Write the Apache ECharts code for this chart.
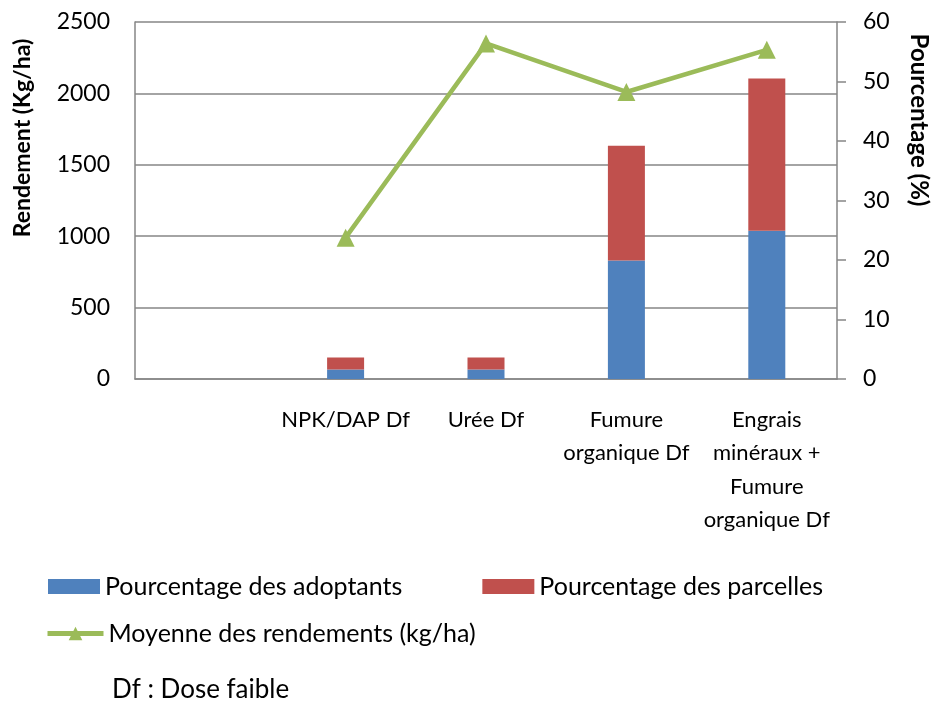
<!DOCTYPE html>
<html>
<head>
<meta charset="utf-8">
<script src="https://cdn.jsdelivr.net/npm/echarts@6/dist/echarts.min.js"></script>
<style>
  html, body { margin: 0; padding: 0; background: #fff; }
  #chart { width: 933px; height: 701px; }
</style>
</head>
<body>
<div id="chart"></div>
<script>
// categories (first slot is empty in the original)
var categories = ['', 'NPK/DAP Df', 'Urée Df', 'Fumure\norganique Df', 'Engrais\nminéraux +\nFumure\norganique Df'];
// percentages (right axis)
var adoptants = [null, 1.6, 1.6, 19.9, 24.9];
var parcelles = [null, 2.0, 2.0, 19.3, 25.6];
// mean yield kg/ha (left axis)
var rendements = [null, 990, 2350, 2010, 2305];

var seriesNames = ['Pourcentage des adoptants', 'Pourcentage des parcelles', 'Moyenne des rendements (kg/ha)'];

var FONT = 'Lato, "Open Sans", sans-serif';
var gridColor = '#868686';

var myChart = echarts.init(document.getElementById('chart'));

var option = {
    animation: false,
    textStyle: { fontFamily: FONT },
    grid: { left: 135, right: 96, top: 22, bottom: 322 },
    legend: [{
        data: [seriesNames[0], seriesNames[1]],
        left: 48, top: 574, padding: 0,
        itemWidth: 52, itemHeight: 15, itemGap: 80,
        icon: 'rect',
        textStyle: { fontFamily: FONT, fontSize: 25, color: '#000' }
    }, {
        data: [seriesNames[2]],
        left: 45, top: 621, padding: 0,
        itemWidth: 56, itemHeight: 17,
        lineStyle: { width: 5 },
        textStyle: { fontFamily: FONT, fontSize: 25, color: '#000' }
    }],
    xAxis: {
        type: 'category',
        data: categories,
        axisLine: { lineStyle: { color: gridColor, width: 1.5 } },
        axisTick: { show: false },
        axisLabel: {
            interval: 0, margin: 24, color: '#000',
            fontFamily: FONT, fontSize: 22, lineHeight: 33.5, align: 'center'
        }
    },
    yAxis: [{
        type: 'value', min: 0, max: 2500, interval: 500,
        axisLine: { show: true, lineStyle: { color: gridColor, width: 1.5 } },
        axisTick: { show: false },
        splitLine: { lineStyle: { color: gridColor, width: 1.5 } },
        axisLabel: { margin: 25, color: '#000', fontFamily: FONT, fontSize: 23,
                     formatter: function (v) { return String(v); } }
    }, {
        type: 'value', min: 0, max: 60, interval: 10,
        axisLine: { show: true, lineStyle: { color: gridColor, width: 1.5 } },
        axisTick: { show: true, length: 9, lineStyle: { color: gridColor, width: 1.5 } },
        splitLine: { show: false },
        axisLabel: { margin: 26, color: '#000', fontFamily: FONT, fontSize: 23 }
    }],
    graphic: [{
        type: 'text', x: 23, y: 138, rotation: Math.PI / 2,
        style: { text: 'Rendement (Kg/ha)', font: 'bold 23px ' + FONT, fill: '#000',
                 textAlign: 'center', textVerticalAlign: 'middle' }
    }, {
        type: 'text', x: 919, y: 120, rotation: -Math.PI / 2,
        style: { text: 'Pourcentage (%)', font: 'bold 24px ' + FONT, fill: '#000',
                 textAlign: 'center', textVerticalAlign: 'middle' }
    }, {
        type: 'text', x: 112, y: 690,
        style: { text: 'Df : Dose faible', font: '26px ' + FONT, fill: '#000',
                 textAlign: 'left', textVerticalAlign: 'middle' }
    }],
    series: [{
        name: seriesNames[0], type: 'bar', stack: 'pct', yAxisIndex: 1,
        barWidth: 37, data: adoptants,
        itemStyle: { color: '#4F81BD' }
    }, {
        name: seriesNames[1], type: 'bar', stack: 'pct', yAxisIndex: 1,
        barWidth: 37, data: parcelles,
        itemStyle: { color: '#C0504D' }
    }, {
        name: seriesNames[2], type: 'line', yAxisIndex: 0,
        data: rendements,
        symbol: 'triangle', symbolSize: 18,
        lineStyle: { color: '#9BBB59', width: 4.5 },
        itemStyle: { color: '#9BBB59' }
    }]
};

myChart.setOption(option);
</script>
</body>
</html>
